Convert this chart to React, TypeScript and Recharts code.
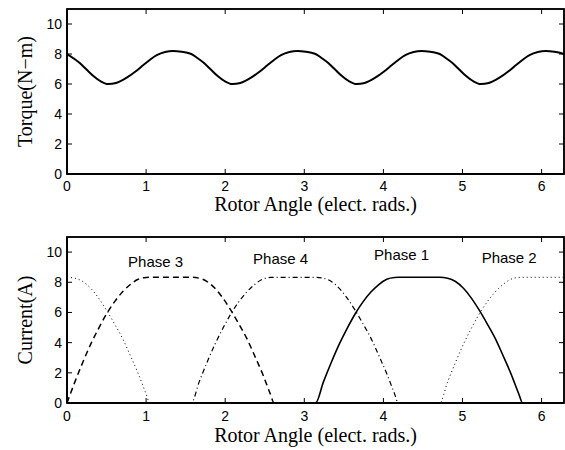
import React from 'react';
import { LineChart, Line, XAxis, YAxis, ReferenceDot, ReferenceArea } from 'recharts';

// ---------- data ----------
const xTicks = [0, 1, 2, 3, 4, 5, 6];
const yTicks = [0, 2, 4, 6, 8, 10];

const torqueAngle = [
  0, 0.08, 0.165, 0.25, 0.33, 0.42, 0.52, 0.62, 0.755, 0.87, 0.966, 1.05, 1.135, 1.24, 1.34, 1.45, 1.52,
  1.571, 1.651, 1.736, 1.821, 1.901, 1.991, 2.091, 2.191, 2.326, 2.441, 2.537, 2.621, 2.706, 2.811, 2.911, 3.021, 3.091,
  3.142, 3.222, 3.307, 3.392, 3.472, 3.562, 3.662, 3.762, 3.897, 4.012, 4.108, 4.192, 4.277, 4.382, 4.482, 4.592, 4.662,
  4.712, 4.792, 4.877, 4.962, 5.042, 5.132, 5.232, 5.332, 5.467, 5.582, 5.678, 5.762, 5.847, 5.952, 6.052, 6.162, 6.232,
  6.283,
];
const torqueValue = [
  8.0, 7.72, 7.38, 6.95, 6.55, 6.2, 6.0, 6.07, 6.42, 6.85, 7.27, 7.62, 7.92, 8.13, 8.2, 8.15, 8.08,
  8.0, 7.72, 7.38, 6.95, 6.55, 6.2, 6.0, 6.07, 6.42, 6.85, 7.27, 7.62, 7.92, 8.13, 8.2, 8.15, 8.08,
  8.0, 7.72, 7.38, 6.95, 6.55, 6.2, 6.0, 6.07, 6.42, 6.85, 7.27, 7.62, 7.92, 8.13, 8.2, 8.15, 8.08,
  8.0, 7.72, 7.38, 6.95, 6.55, 6.2, 6.0, 6.07, 6.42, 6.85, 7.27, 7.62, 7.92, 8.13, 8.2, 8.15, 8.08,
  8.0,
];

const phase1Angle = [
  0, 3.142, 3.242, 3.342, 3.442, 3.542, 3.642, 3.742, 3.842, 3.942, 4.042, 4.142, 4.189,
  4.712, 4.812, 4.912, 5.012, 5.112, 5.212, 5.312, 5.412, 5.512, 5.612, 5.712, 5.76, 6.283,
];
const phase1Current = [
  0, 0, 1.4, 2.7, 3.9, 4.95, 5.9, 6.7, 7.35, 7.85, 8.2, 8.32, 8.33,
  8.33, 8.27, 8.05, 7.6, 6.95, 6.15, 5.25, 4.3, 3.15, 1.95, 0.6, 0, 0,
];

const phase2Angle = [
  0, 0.1, 0.2, 0.3, 0.4, 0.5, 0.6, 0.7, 0.8, 0.9, 1.0, 1.047,
  4.712, 4.812, 4.912, 5.012, 5.112, 5.212, 5.312, 5.412, 5.512, 5.612, 5.712, 5.76, 6.283,
];
const phase2Current = [
  8.33, 8.27, 8.05, 7.6, 6.95, 6.15, 5.25, 4.3, 3.15, 1.95, 0.6, 0,
  0, 1.4, 2.7, 3.9, 4.95, 5.9, 6.7, 7.35, 7.85, 8.2, 8.32, 8.33, 8.33,
];

const phase3Angle = [
  0, 0.1, 0.2, 0.3, 0.4, 0.5, 0.6, 0.7, 0.8, 0.9, 1.0, 1.047,
  1.571, 1.671, 1.771, 1.871, 1.971, 2.071, 2.171, 2.271, 2.371, 2.471, 2.571, 2.618, 6.283,
];
const phase3Current = [
  0, 1.4, 2.7, 3.9, 4.95, 5.9, 6.7, 7.35, 7.85, 8.2, 8.32, 8.33,
  8.33, 8.27, 8.05, 7.6, 6.95, 6.15, 5.25, 4.3, 3.15, 1.95, 0.6, 0, 0,
];

const phase4Angle = [
  0, 1.571, 1.671, 1.771, 1.871, 1.971, 2.071, 2.171, 2.271, 2.371, 2.471, 2.571, 2.618,
  3.142, 3.242, 3.342, 3.442, 3.542, 3.642, 3.742, 3.842, 3.942, 4.042, 4.142, 4.189, 6.283,
];
const phase4Current = [
  0, 0, 1.4, 2.7, 3.9, 4.95, 5.9, 6.7, 7.35, 7.85, 8.2, 8.32, 8.33,
  8.33, 8.27, 8.05, 7.6, 6.95, 6.15, 5.25, 4.3, 3.15, 1.95, 0.6, 0, 0,
];

const phaseLabels = ['Phase 3', 'Phase 4', 'Phase 1', 'Phase 2'];
const phaseLabelX = [1.12, 2.7, 4.23, 5.59];
const phaseLabelY = [9.38, 9.56, 9.84, 9.6];

// ---------- helpers ----------
const zip = (a: number[], v: number[]) => a.map((x, i) => ({ a: x, v: v[i] }));

const torqueData = zip(torqueAngle, torqueValue);
const p1 = zip(phase1Angle, phase1Current);
const p2 = zip(phase2Angle, phase2Current);
const p3 = zip(phase3Angle, phase3Current);
const p4 = zip(phase4Angle, phase4Current);

const TWO_PI = 6.2832;
const Y_MAX = 11;
const CHART_W = 565;
const CHART_H = 225;
const Y_AXIS_W = 67;
const RIGHT_M = 1;
const PLOT_W = CHART_W - Y_AXIS_W - RIGHT_M;
const TICK = 5;

const sans = 'Liberation Sans, Arial, Helvetica, sans-serif';
const serif = 'Liberation Serif, Times New Roman, serif';
const tickStyle = { fill: '#000', fontSize: 14, fontFamily: sans };
const axisLine = { stroke: '#000', strokeWidth: 1.5 };
const labelStyle = { fill: '#000', fontSize: 20, fontFamily: serif };

// box frame with inward ticks on all four sides (axes decoration)
function Frame({ top, height }: { top: number; height: number }) {
  const left = Y_AXIS_W;
  const right = left + PLOT_W;
  const bottom = top + height;
  const sx = (v: number) => left + (v / TWO_PI) * PLOT_W;
  const sy = (v: number) => bottom - (v / Y_MAX) * height;
  return (
    <svg
      width={CHART_W}
      height={CHART_H}
      style={{ position: 'absolute', left: 0, top: 0, pointerEvents: 'none' }}
    >
      <rect x={left} y={top} width={PLOT_W} height={height} fill="none" stroke="#000" strokeWidth={1.5} />
      {xTicks.map((t) => (
        <g key={'x' + t}>
          <line x1={sx(t)} x2={sx(t)} y1={top} y2={top + TICK} stroke="#000" strokeWidth={1} />
          <line x1={sx(t)} x2={sx(t)} y1={bottom} y2={bottom - TICK} stroke="#000" strokeWidth={1} />
        </g>
      ))}
      {yTicks.map((t) => (
        <g key={'y' + t}>
          <line x1={left} x2={left + TICK} y1={sy(t)} y2={sy(t)} stroke="#000" strokeWidth={1} />
          <line x1={right} x2={right - TICK} y1={sy(t)} y2={sy(t)} stroke="#000" strokeWidth={1} />
        </g>
      ))}
    </svg>
  );
}

export default function App() {
  const top1 = 9;
  const xh1 = 51;
  const top2 = 12;
  const xh2 = 47;
  return (
    <div style={{ position: 'absolute', left: 0, top: 0, width: 565, height: 450, background: '#fff' }}>
      <div style={{ position: 'relative', width: CHART_W, height: CHART_H }}>
        <LineChart width={CHART_W} height={CHART_H} data={torqueData} margin={{ top: top1, right: RIGHT_M, bottom: 0, left: 0 }}>
          <XAxis
            dataKey="a"
            type="number"
            domain={[0, TWO_PI]}
            ticks={xTicks}
            allowDataOverflow
            height={xh1}
            tickSize={-5}
            tickMargin={12}
            tick={tickStyle}
            axisLine={axisLine}
            tickLine={false}
            label={{ value: 'Rotor Angle (elect. rads.)', position: 'center', dy: 4, style: labelStyle }}
          />
          <YAxis
            type="number"
            domain={[0, Y_MAX]}
            ticks={yTicks}
            allowDataOverflow
            width={Y_AXIS_W}
            tickSize={-5}
            tickMargin={10}
            tick={tickStyle}
            axisLine={axisLine}
            tickLine={false}
            label={{ value: 'Torque(N−m)', angle: -90, position: 'center', dx: -8.5, style: labelStyle }}
          />
          <ReferenceArea
            x1={0}
            x2={TWO_PI}
            y1={0}
            y2={Y_MAX}
            fill="none"
            fillOpacity={0}
            stroke="#000"
            strokeWidth={1.5}
            strokeOpacity={1}
            ifOverflow="visible"
          />
          <Line
            data={torqueData}
            dataKey="v"
            type="monotone"
            stroke="#000"
            strokeWidth={2}
            dot={false}
            activeDot={false}
            isAnimationActive={false}
          />
        </LineChart>
        <Frame top={top1} height={CHART_H - top1 - xh1} />
      </div>
      <div style={{ position: 'relative', width: CHART_W, height: CHART_H }}>
        <LineChart width={CHART_W} height={CHART_H} data={p1} margin={{ top: top2, right: RIGHT_M, bottom: 0, left: 0 }}>
          <XAxis
            dataKey="a"
            type="number"
            domain={[0, TWO_PI]}
            ticks={xTicks}
            allowDataOverflow
            height={xh2}
            tickSize={-5}
            tickMargin={13}
            tick={tickStyle}
            axisLine={axisLine}
            tickLine={false}
            label={{ value: 'Rotor Angle (elect. rads.)', position: 'center', dy: 8, style: labelStyle }}
          />
          <YAxis
            type="number"
            domain={[0, Y_MAX]}
            ticks={yTicks}
            allowDataOverflow
            width={Y_AXIS_W}
            tickSize={-5}
            tickMargin={10}
            tick={tickStyle}
            axisLine={axisLine}
            tickLine={false}
            label={{ value: 'Current(A)', angle: -90, position: 'center', dx: -8.5, style: labelStyle }}
          />
          <ReferenceArea
            x1={0}
            x2={TWO_PI}
            y1={0}
            y2={Y_MAX}
            fill="none"
            fillOpacity={0}
            stroke="#000"
            strokeWidth={1.5}
            strokeOpacity={1}
            ifOverflow="visible"
          />
          <Line data={p1} dataKey="v" type="monotone" stroke="#000" strokeWidth={1.6} dot={false} activeDot={false} isAnimationActive={false} />
          <Line data={p2} dataKey="v" type="monotone" stroke="#000" strokeWidth={1} strokeDasharray="1 3" dot={false} activeDot={false} isAnimationActive={false} />
          <Line data={p3} dataKey="v" type="monotone" stroke="#000" strokeWidth={1.5} strokeDasharray="6 4" dot={false} activeDot={false} isAnimationActive={false} />
          <Line data={p4} dataKey="v" type="monotone" stroke="#000" strokeWidth={1.2} strokeDasharray="5 3 1 3" dot={false} activeDot={false} isAnimationActive={false} />
          {phaseLabels.map((t, i) => (
            <ReferenceDot
              key={t}
              x={phaseLabelX[i]}
              y={phaseLabelY[i]}
              r={0}
              fill="none"
              stroke="none"
              label={{ value: t, position: 'center', fill: '#000', fontSize: 15, fontFamily: sans }}
            />
          ))}
        </LineChart>
        <Frame top={top2} height={CHART_H - top2 - xh2} />
      </div>
    </div>
  );
}
